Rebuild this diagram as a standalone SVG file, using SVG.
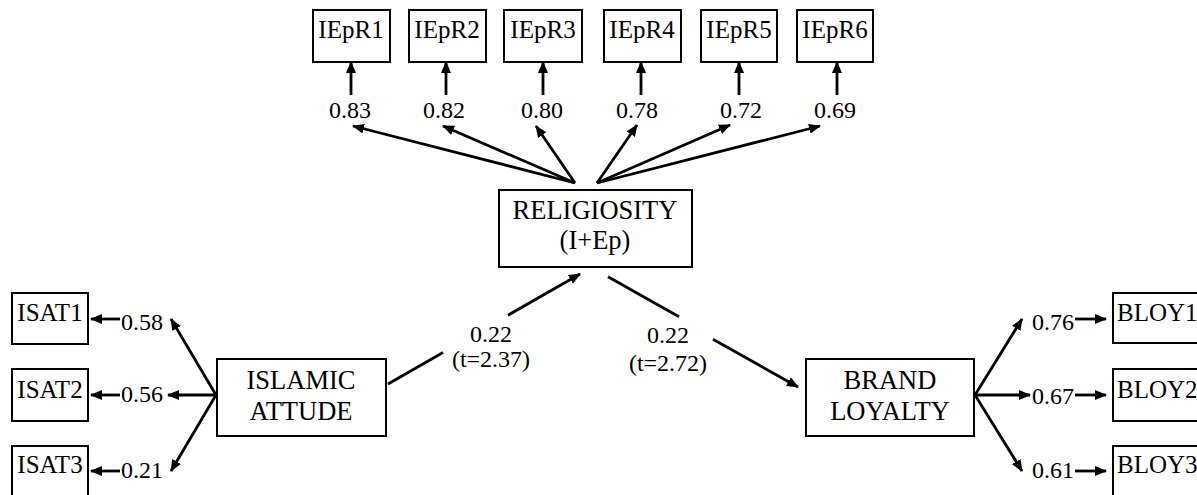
<svg xmlns="http://www.w3.org/2000/svg" width="1197" height="495" viewBox="0 0 1197 495">
<style>
  .box { fill: #fff; stroke: #000; stroke-width: 2; }
  .lbl { font-family: "Liberation Serif", "Times New Roman", serif; fill: #000; }
  .sm { font-size: 25px; }
  .big { font-size: 26.5px; text-anchor: middle; }
  .num { font-size: 24px; }
  .mid { text-anchor: middle; }
  .edge { stroke: #000; stroke-width: 2.8; fill: none; }
</style>
<defs>
  <marker id="ah" markerUnits="userSpaceOnUse" markerWidth="12" markerHeight="11" refX="11" refY="5.5" orient="auto">
    <path d="M0,0.5 L12,5.5 L0,10.5 z" fill="#000"/>
  </marker>
</defs>
<rect width="1197" height="495" fill="#fff"/>

<g id="connectors">
  <line class="edge" x1="575" y1="183" x2="353" y2="126" marker-end="url(#ah)"/>
  <line class="edge" x1="575" y1="183" x2="443" y2="126" marker-end="url(#ah)"/>
  <line class="edge" x1="575" y1="183" x2="536" y2="126" marker-end="url(#ah)"/>
  <line class="edge" x1="597" y1="183" x2="637" y2="125" marker-end="url(#ah)"/>
  <line class="edge" x1="597" y1="183" x2="730" y2="125" marker-end="url(#ah)"/>
  <line class="edge" x1="597" y1="183" x2="820" y2="126" marker-end="url(#ah)"/>
  <line class="edge" x1="351" y1="95" x2="351" y2="62" marker-end="url(#ah)"/>
  <line class="edge" x1="446" y1="95" x2="446" y2="62" marker-end="url(#ah)"/>
  <line class="edge" x1="543" y1="95" x2="543" y2="62" marker-end="url(#ah)"/>
  <line class="edge" x1="641" y1="95" x2="641" y2="62" marker-end="url(#ah)"/>
  <line class="edge" x1="739" y1="95" x2="739" y2="62" marker-end="url(#ah)"/>
  <line class="edge" x1="837" y1="95" x2="837" y2="62" marker-end="url(#ah)"/>
  <line class="edge" x1="216" y1="395" x2="171" y2="319" marker-end="url(#ah)"/>
  <line class="edge" x1="216" y1="395" x2="168" y2="395" marker-end="url(#ah)"/>
  <line class="edge" x1="216" y1="395" x2="171" y2="471" marker-end="url(#ah)"/>
  <line class="edge" x1="120" y1="319" x2="91" y2="319" marker-end="url(#ah)"/>
  <line class="edge" x1="120" y1="395" x2="91" y2="395" marker-end="url(#ah)"/>
  <line class="edge" x1="120" y1="471" x2="91" y2="471" marker-end="url(#ah)"/>
  <line class="edge" x1="975" y1="395" x2="1022" y2="319" marker-end="url(#ah)"/>
  <line class="edge" x1="975" y1="395" x2="1030" y2="395" marker-end="url(#ah)"/>
  <line class="edge" x1="975" y1="395" x2="1022" y2="471" marker-end="url(#ah)"/>
  <line class="edge" x1="1075" y1="319" x2="1106" y2="319" marker-end="url(#ah)"/>
  <line class="edge" x1="1075" y1="395" x2="1106" y2="395" marker-end="url(#ah)"/>
  <line class="edge" x1="1075" y1="471" x2="1106" y2="471" marker-end="url(#ah)"/>
  <line class="edge" x1="388" y1="384" x2="443" y2="352.5"/>
  <line class="edge" x1="508" y1="315.2" x2="580" y2="274" marker-end="url(#ah)"/>
  <line class="edge" x1="608" y1="276.7" x2="679" y2="316.7"/>
  <line class="edge" x1="713" y1="339.3" x2="798" y2="387" marker-end="url(#ah)"/>
</g>

<g id="labels">
  <text class="lbl num mid" x="350" y="118">0.83</text>
  <text class="lbl num mid" x="444" y="118">0.82</text>
  <text class="lbl num mid" x="542" y="118">0.80</text>
  <text class="lbl num mid" x="637" y="118">0.78</text>
  <text class="lbl num mid" x="741" y="118">0.72</text>
  <text class="lbl num mid" x="835" y="118">0.69</text>
  <text class="lbl num" x="121" y="330">0.58</text>
  <text class="lbl num" x="121" y="402">0.56</text>
  <text class="lbl num" x="121" y="478">0.21</text>
  <text class="lbl num" x="1032" y="330">0.76</text>
  <text class="lbl num" x="1032" y="404">0.67</text>
  <text class="lbl num" x="1032" y="478">0.61</text>
  <text class="lbl num mid" x="491" y="342">0.22</text>
  <text class="lbl num mid" x="491" y="367">(t=2.37)</text>
  <text class="lbl num mid" x="668" y="343">0.22</text>
  <text class="lbl num mid" x="668" y="371">(t=2.72)</text>
</g>

<g id="IEpR1"><rect class="box" x="313" y="10" width="77" height="52"/><text class="lbl sm mid" x="351" y="38">IEpR1</text></g>
<g id="IEpR2"><rect class="box" x="409" y="10" width="77" height="52"/><text class="lbl sm mid" x="447" y="38">IEpR2</text></g>
<g id="IEpR3"><rect class="box" x="504" y="10" width="78" height="52"/><text class="lbl sm mid" x="543" y="38">IEpR3</text></g>
<g id="IEpR4"><rect class="box" x="604" y="10" width="77" height="52"/><text class="lbl sm mid" x="642" y="38">IEpR4</text></g>
<g id="IEpR5"><rect class="box" x="701" y="10" width="76" height="52"/><text class="lbl sm mid" x="739" y="38">IEpR5</text></g>
<g id="IEpR6"><rect class="box" x="797" y="10" width="76" height="52"/><text class="lbl sm mid" x="835" y="38">IEpR6</text></g>

<g id="RELIGIOSITY"><rect class="box" x="499" y="190" width="193" height="77"/><text class="lbl big" x="595" y="219">RELIGIOSITY</text><text class="lbl big" x="595" y="249">(I+Ep)</text></g>

<g id="ISLAMIC_ATTUDE"><rect class="box" x="217" y="359" width="169" height="77"/><text class="lbl big" x="301" y="389">ISLAMIC</text><text class="lbl big" x="301" y="420">ATTUDE</text></g>

<g id="BRAND_LOYALTY"><rect class="box" x="806" y="359" width="168" height="77"/><text class="lbl big" x="890" y="389">BRAND</text><text class="lbl big" x="890" y="420">LOYALTY</text></g>

<g id="ISAT1"><rect class="box" x="12" y="293" width="76" height="51"/><text class="lbl sm mid" x="50" y="321">ISAT1</text></g>
<g id="ISAT2"><rect class="box" x="12" y="369" width="76" height="52"/><text class="lbl sm mid" x="50" y="398">ISAT2</text></g>
<g id="ISAT3"><rect class="box" x="12" y="446" width="76" height="60"/><text class="lbl sm mid" x="50" y="473">ISAT3</text></g>

<g id="BLOY1"><rect class="box" x="1113" y="293" width="100" height="50"/><text class="lbl sm" x="1117" y="321">BLOY1</text></g>
<g id="BLOY2"><rect class="box" x="1113" y="369" width="100" height="52"/><text class="lbl sm" x="1117" y="398">BLOY2</text></g>
<g id="BLOY3"><rect class="box" x="1113" y="446" width="100" height="60"/><text class="lbl sm" x="1117" y="473">BLOY3</text></g>
</svg>
